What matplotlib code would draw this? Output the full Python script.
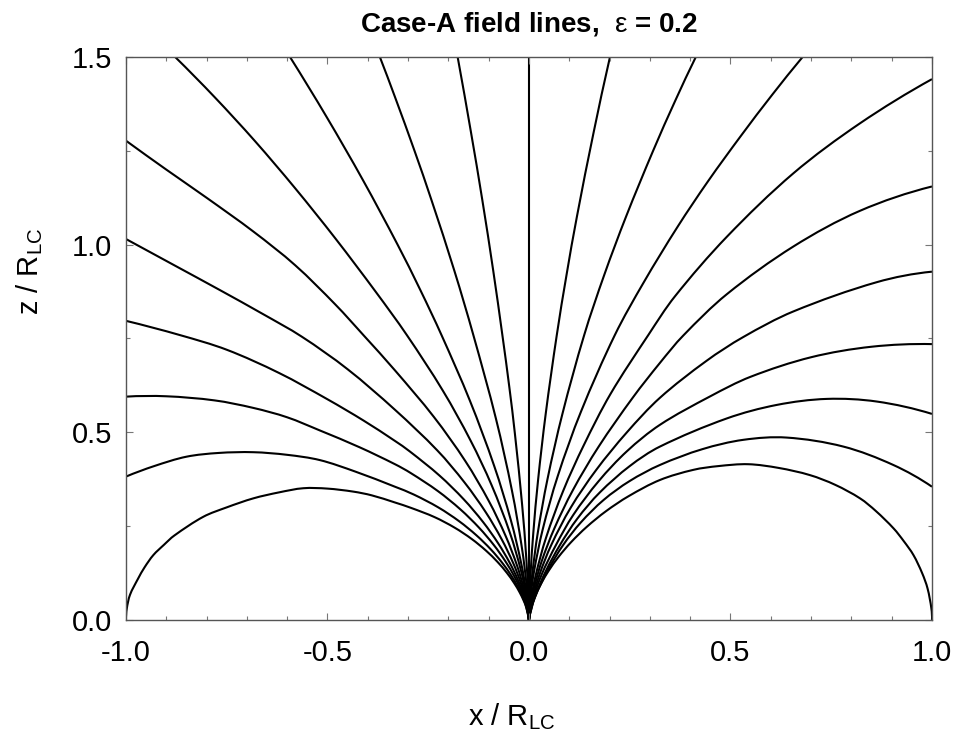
import numpy as np
import matplotlib
matplotlib.use("Agg")
import matplotlib.pyplot as plt
from matplotlib.path import Path
from matplotlib.patches import PathPatch
from matplotlib.ticker import MultipleLocator

plt.rcParams["font.family"] = ["Liberation Sans", "DejaVu Sans"]
plt.rcParams["mathtext.fontset"] = "custom"
plt.rcParams["mathtext.rm"] = "Liberation Sans"
plt.rcParams["mathtext.it"] = "Liberation Sans"

# ------------------------------------------------------------
# Field lines, (x, z) in units of R_LC,
# each one running from its outer end down to the origin
# ------------------------------------------------------------
line_c = [(0.0, 1.5), (0.0, 0.0)]

# right half, innermost to outermost
line_r1 = [(0.201, 1.5), (0.1606, 1.3), (0.119, 1.075), (0.0933, 0.92), (0.069, 0.759),
           (0.0415, 0.549), (0.0226, 0.373), (0.0106, 0.23), (0.0039, 0.122),
           (0.0009, 0.048), (0.0, 0.0)]
line_r2 = [(0.414, 1.5), (0.364, 1.386), (0.308, 1.25), (0.241, 1.075), (0.187, 0.92),
           (0.137, 0.759), (0.0832, 0.55), (0.0459, 0.375), (0.0218, 0.232),
           (0.0082, 0.123), (0.0019, 0.048), (0.0, 0.0)]
line_r3 = [(0.679, 1.5), (0.604, 1.4), (0.526, 1.29), (0.445, 1.17), (0.369, 1.048),
           (0.285, 0.9), (0.213, 0.759), (0.1294, 0.556), (0.0713, 0.383), (0.0338, 0.24),
           (0.0127, 0.13), (0.003, 0.053), (0.0, 0.0)]
line_r4 = [(1.0, 1.441), (0.821, 1.323), (0.656, 1.190), (0.491, 1.021), (0.362, 0.862),
           (0.296, 0.759), (0.2022, 0.602), (0.1355, 0.4645), (0.0853, 0.345),
           (0.0423, 0.219), (0.0169, 0.120), (0.0045, 0.050), (0.0, 0.0)]
line_r5 = [(1.0, 1.155), (0.821, 1.09), (0.656, 0.995), (0.491, 0.868), (0.383, 0.758),
           (0.325, 0.685), (0.258, 0.593), (0.173, 0.462), (0.109, 0.346), (0.063, 0.244),
           (0.032, 0.158), (0.0136, 0.090), (0.004, 0.040), (0.0, 0.0)]
line_r6 = [(1.0, 0.928), (0.863, 0.9), (0.656, 0.822), (0.532, 0.754), (0.44, 0.69),
           (0.325, 0.592), (0.243, 0.5), (0.167, 0.4), (0.104, 0.3), (0.0554, 0.2),
           (0.0258, 0.12), (0.0072, 0.05), (0.0, 0.0)]
line_r7 = [(1.0, 0.735), (0.85, 0.728), (0.70, 0.70), (0.55, 0.648), (0.45, 0.596),
           (0.325, 0.520), (0.2435, 0.45), (0.173, 0.37), (0.110, 0.28), (0.0671, 0.2),
           (0.0311, 0.12), (0.0086, 0.05), (0.0, 0.0)]
line_r8 = [(1.0, 0.549), (0.863, 0.582), (0.739, 0.589), (0.615, 0.573), (0.491, 0.537),
           (0.325, 0.462), (0.250, 0.41), (0.176, 0.34), (0.120, 0.27), (0.077, 0.2),
           (0.0417, 0.13), (0.0138, 0.06), (0.0, 0.0)]
line_r9 = [(1.0, 0.355), (0.904, 0.413), (0.780, 0.462), (0.639, 0.486), (0.532, 0.480),
           (0.43, 0.455), (0.325, 0.413), (0.2496, 0.37), (0.1855, 0.32), (0.1288, 0.26),
           (0.085, 0.2), (0.0455, 0.13), (0.0148, 0.06), (0.0, 0.0)]
line_r10 = [(1.0, 0.0), (0.9986, 0.03), (0.989, 0.084), (0.9755, 0.125), (0.954, 0.173),
            (0.930, 0.21), (0.9047, 0.244), (0.861, 0.29), (0.8215, 0.324), (0.76, 0.36),
            (0.697, 0.386), (0.62, 0.405), (0.544, 0.415), (0.47, 0.41), (0.408, 0.400),
            (0.325, 0.373), (0.2475, 0.33), (0.1907, 0.2895), (0.1433, 0.248),
            (0.1044, 0.2072), (0.0733, 0.168), (0.0491, 0.1315), (0.0309, 0.0984),
            (0.0179, 0.0693), (0.0092, 0.0449), (0.0039, 0.0255), (0.0, 0.0)]

# left half, innermost to outermost
line_l1 = [(-0.177, 1.5), (-0.144, 1.3), (-0.1158, 1.119), (-0.0886, 0.93), (-0.066, 0.759),
           (-0.0487, 0.62), (-0.035, 0.497), (-0.017, 0.307), (-0.0065, 0.162),
           (-0.0016, 0.063), (0.0, 0.0)]
line_l2 = [(-0.370, 1.5), (-0.3327, 1.394), (-0.284, 1.25), (-0.242, 1.119), (-0.185, 0.93),
           (-0.138, 0.759), (-0.0819, 0.536), (-0.0421, 0.344), (-0.0178, 0.194),
           (-0.0054, 0.087), (0.0, 0.0)]
line_l3 = [(-0.593, 1.5), (-0.502, 1.34), (-0.412, 1.172), (-0.326, 1.0), (-0.27, 0.88),
           (-0.217, 0.759), (-0.1465, 0.584), (-0.0862, 0.41), (-0.0445, 0.264),
           (-0.0191, 0.15), (-0.0057, 0.067), (0.0, 0.0)]
line_l4 = [(-0.878, 1.5), (-0.78, 1.393), (-0.68, 1.276), (-0.58, 1.15), (-0.48, 1.016),
           (-0.38, 0.874), (-0.303, 0.759), (-0.2135, 0.6106), (-0.1449, 0.478),
           (-0.0928, 0.3594), (-0.0475, 0.2328), (-0.02, 0.1321), (-0.0059, 0.0591), (0.0, 0.0)]
line_l5 = [(-1.0, 1.277), (-0.90, 1.20), (-0.80, 1.125), (-0.684, 1.035), (-0.58, 0.945),
           (-0.48, 0.84), (-0.41, 0.758), (-0.3325, 0.665), (-0.236, 0.541), (-0.158, 0.4234),
           (-0.0996, 0.3168), (-0.0577, 0.2233), (-0.0295, 0.1446), (-0.0125, 0.0821),
           (-0.0037, 0.0367), (0.0, 0.0)]
line_l6 = [(-1.0, 1.015), (-0.88, 0.945), (-0.767, 0.879), (-0.66, 0.815), (-0.564, 0.755),
           (-0.45, 0.668), (-0.3325, 0.560), (-0.2277, 0.452), (-0.16, 0.3665), (-0.1071, 0.2868),
           (-0.0675, 0.2145), (-0.039, 0.1512), (-0.02, 0.098), (-0.0084, 0.0556),
           (-0.0025, 0.0249), (0.0, 0.0)]
line_l7 = [(-1.0, 0.797), (-0.866, 0.759), (-0.75, 0.72), (-0.62, 0.658), (-0.50, 0.588),
           (-0.41, 0.531), (-0.3325, 0.477), (-0.2959, 0.4492), (-0.2223, 0.385), (-0.162, 0.3216),
           (-0.1138, 0.2608), (-0.0763, 0.204), (-0.048, 0.1527), (-0.0278, 0.1076),
           (-0.0142, 0.0697), (-0.006, 0.0396), (0.0, 0.0)]
line_l8 = [(-1.0, 0.595), (-0.90, 0.596), (-0.78, 0.585), (-0.684, 0.565), (-0.60, 0.54),
           (-0.519, 0.505), (-0.42, 0.46), (-0.3325, 0.415), (-0.2939, 0.3918), (-0.2264, 0.3437),
           (-0.17, 0.2945), (-0.124, 0.246), (-0.0871, 0.1995), (-0.0583, 0.156),
           (-0.0367, 0.1168), (-0.0213, 0.0823), (-0.0109, 0.0533), (-0.0046, 0.0303), (0.0, 0.0)]
line_l9 = [(-1.0, 0.382), (-0.93, 0.41), (-0.85, 0.435), (-0.77, 0.445), (-0.684, 0.447),
           (-0.60, 0.44), (-0.519, 0.426), (-0.43, 0.395), (-0.3325, 0.355), (-0.2858, 0.3342),
           (-0.2248, 0.2998), (-0.1732, 0.263), (-0.1301, 0.2253), (-0.0948, 0.1882),
           (-0.0666, 0.1526), (-0.0446, 0.1194), (-0.0281, 0.0894), (-0.0163, 0.063),
           (-0.0083, 0.0408), (0.0, 0.0)]
line_l10 = [(-1.0, 0.0), (-0.998, 0.03), (-0.990, 0.067), (-0.97, 0.11), (-0.954, 0.14),
            (-0.932, 0.173), (-0.906, 0.2), (-0.88, 0.225), (-0.808, 0.275), (-0.75, 0.30),
            (-0.684, 0.324), (-0.62, 0.34), (-0.560, 0.351), (-0.50, 0.35), (-0.436, 0.342),
            (-0.39, 0.332), (-0.3325, 0.313), (-0.2928, 0.2987), (-0.2344, 0.2741),
            (-0.1844, 0.2459), (-0.142, 0.2157), (-0.1067, 0.1848), (-0.0778, 0.1544),
            (-0.0546, 0.1252), (-0.0366, 0.098), (-0.023, 0.0733), (-0.0133, 0.0517),
            (-0.0068, 0.0335), (0.0, 0.0)]

field_lines = [line_c,
               line_r1, line_r2, line_r3, line_r4, line_r5,
               line_r6, line_r7, line_r8, line_r9, line_r10,
               line_l1, line_l2, line_l3, line_l4, line_l5,
               line_l6, line_l7, line_l8, line_l9, line_l10]

x_ticks = [-1.0, -0.5, 0.0, 0.5, 1.0]
z_ticks = [0.0, 0.5, 1.0, 1.5]


def unit(v):
    return v / np.hypot(*v)


def smooth_path(pts):
    """Bezier path passing through the read points (tangents from neighbours)."""
    p = np.asarray(pts, dtype=float)
    n = len(p)
    if n == 2:
        return Path(p, [Path.MOVETO, Path.LINETO])
    tang = [None] * n
    for i in range(1, n - 1):
        tang[i] = unit(p[i + 1] - p[i - 1])
    # end tangents mirrored about the end chords, so the ends bend naturally
    tang[0] = unit(2 * unit(p[1] - p[0]) - tang[1])
    tang[-1] = unit(2 * unit(p[-1] - p[-2]) - tang[-2])
    verts = [p[0]]
    codes = [Path.MOVETO]
    for i in range(n - 1):
        a, b = p[i], p[i + 1]
        seg = np.hypot(*(b - a))
        verts += [a + tang[i] * seg / 3, b - tang[i + 1] * seg / 3, b]
        codes += [Path.CURVE4] * 3
    return Path(verts, codes)


# ------------------------------------------------------------
# Plot
# ------------------------------------------------------------
fig = plt.figure(figsize=(9.55, 7.4), dpi=100)
ax = fig.add_axes([0.1319, 0.1622, 0.844, 0.7608])

for pts in field_lines:
    ax.add_patch(PathPatch(smooth_path(pts), facecolor="none",
                           edgecolor="black", linewidth=1.5))

ax.set_xlim(-1.0, 1.0)
ax.set_ylim(0.0, 1.5)
ax.set_xticks(x_ticks)
ax.set_yticks(z_ticks)
ax.set_xticklabels([f"{v:.1f}" for v in x_ticks])
ax.set_yticklabels([f"{v:.1f}" for v in z_ticks])
ax.xaxis.set_minor_locator(MultipleLocator(0.1))
ax.yaxis.set_minor_locator(MultipleLocator(0.25))
ax.tick_params(which="both", direction="in", top=True, right=True,
               color="#777777", width=0.8, labelsize=21)
ax.tick_params(which="major", length=5)
ax.tick_params(axis="x", which="major", pad=14)
ax.tick_params(axis="y", which="major", pad=10)
ax.tick_params(which="minor", length=3)
for spine in ax.spines.values():
    spine.set_color("#555555")
    spine.set_linewidth(1.0)

ax.set_xlabel(r"x / R$_{\rm LC}$", fontsize=21)
ax.set_ylabel(r"z / R$_{\rm LC}$", fontsize=21)
ax.xaxis.set_label_coords(0.478, -0.145)
ax.yaxis.set_label_coords(-0.10, 0.62)
fig.text(0.554, 0.968, r"Case-A field lines,  $\varepsilon$ = 0.2", fontsize=20,
         fontweight="bold", ha="center", va="center")

fig.savefig("out.png", dpi=100)
